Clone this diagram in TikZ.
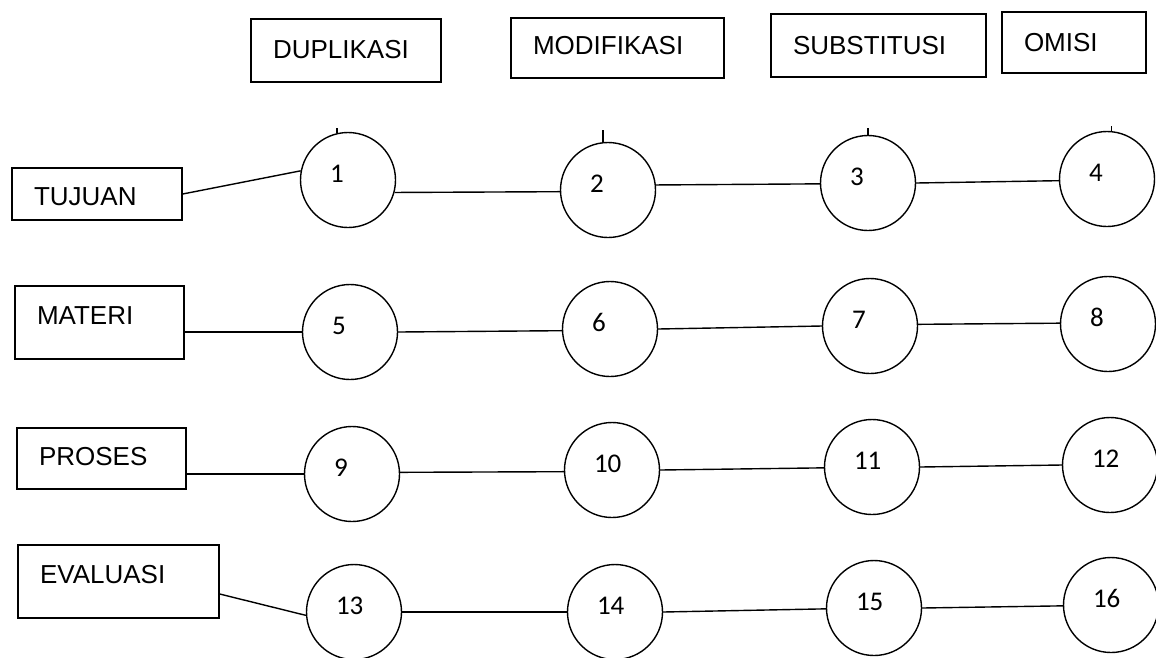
\documentclass[tikz,border=0pt]{standalone}
\usepackage{fontspec}
\setmainfont{Liberation Sans}
\newfontfamily\numfont{Carlito}
\begin{document}
\begin{tikzpicture}[x=1pt,y=-1pt,
  every path/.style={line width=1.4pt},
  box/.style={draw, line width=1.4pt, rectangle, inner xsep=22pt, inner ysep=0pt,
    align=left, font=\fontsize{26}{30}\selectfont, text height=18.6pt},
  circ/.style={draw, line width=1.4pt, circle, minimum size=95pt, inner sep=0pt,
    text width=36pt, align=left, text height=17.1pt, text depth=12pt,
    font=\numfont\fontsize{27}{30}\selectfont},
  link/.style={draw, line width=1.4pt}]
\useasboundingbox (0,0) rectangle (1156,657);
\fill[white] (0,0) rectangle (1156,657);

% top boxes
\node[box, text width=146pt, minimum height=63pt, text depth=3pt] (dup) at (346,50.5) {DUPLIKASI};
\node[box, text width=169pt, minimum height=60pt, text depth=6pt] (mod) at (617.5,48) {MODIFIKASI};
\node[box, text width=171pt, minimum height=63pt, text depth=1pt] (sub) at (878.5,45.5) {SUBSTITUSI};
\node[box, text width=100pt, minimum height=61pt, text depth=1pt] (omi) at (1074,42.5) {OMISI};

% left boxes
\node[box, text width=126pt, minimum height=52pt, text height=22.6pt, text depth=0pt] (tuj) at (97,194) {TUJUAN};
\node[box, text width=125pt, minimum height=73pt, text depth=15pt] (mat) at (99.5,322.5) {MATERI};
\node[box, text width=125pt, minimum height=61pt, text depth=5pt] (pro) at (101.5,458.5) {PROSES};
\node[box, text width=157pt, minimum height=73pt, text depth=15pt] (eva) at (118.5,581.5) {EVALUASI};

% circles
\node[circ] (c1) at (348,180) {1};
\node[circ] (c2) at (608,190) {2};
\node[circ] (c3) at (868,183) {3};
\node[circ] (c4) at (1107,179) {4};
\node[circ] (c5) at (350,332) {5};
\node[circ] (c6) at (610,329) {6};
\node[circ] (c7) at (870,326) {7};
\node[circ] (c8) at (1108,324) {8};
\node[circ] (c9) at (352,474) {9};
\node[circ] (c10) at (612,470) {10};
\node[circ] (c11) at (872,467) {11};
\node[circ] (c12) at (1110,465) {12};
\node[circ] (c13) at (354,612) {13};
\node[circ] (c14) at (615,612) {14};
\node[circ] (c15) at (874,608) {15};
\node[circ] (c16) at (1111,605) {16};

% ticks on top circles
\draw (c1.103) -- ++(0,-5);
\draw (c2.96) -- ++(0,-12);
\draw (c3.90) -- ++(0,-7);
\draw (c4.85) -- ++(0,-5);

% connectors from boxes
\draw[link] (tuj.east) -- (c1.169);
\draw[link] (mat.east |- c5.west) -- (c5.west);
\draw[link] (pro.east |- c9.west) -- (c9.west);
\draw[link] ([yshift=-12.5pt]eva.east) -- (c13.184);

% row links
\draw[link] (c1.345) -- (c2.182);
\draw[link] (c2.6) -- (c3.181);
\draw[link] (c3.east) -- (c4.182);
\draw[link] (c5.east) -- (c6.182);
\draw[link] (c6.east) -- (c7.west);
\draw[link] (c7.2) -- (c8.179);
\draw[link] (c9.2) -- (c10.182);
\draw[link] (c10.east) -- (c11.181);
\draw[link] (c11.east) -- (c12.west);
\draw[link] (c13.east) -- (c14.west);
\draw[link] (c14.east) -- (c15.181);
\draw[link] (c15.east) -- (c16.181);
\end{tikzpicture}
\end{document}
